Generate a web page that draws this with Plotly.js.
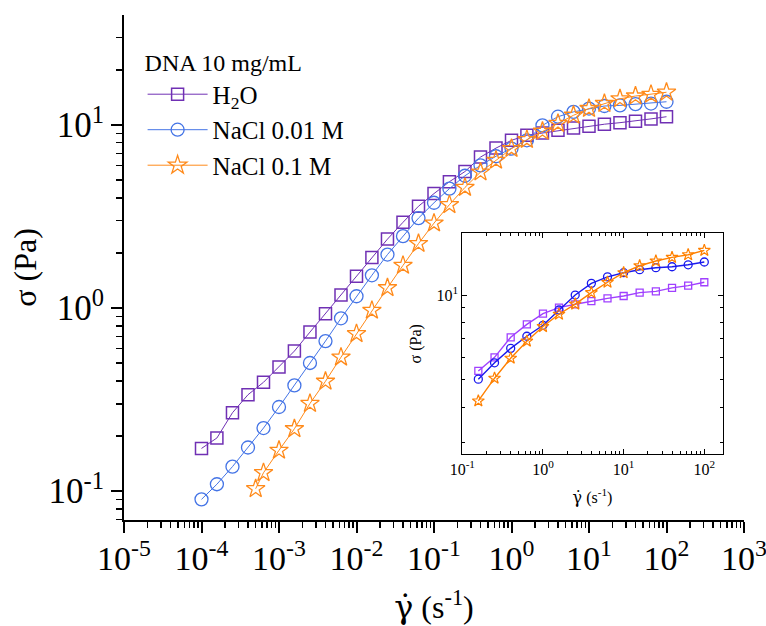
<!DOCTYPE html>
<html>
<head>
<meta charset="utf-8">
<script src="https://cdn.plot.ly/plotly-3.0.1.min.js"></script>
<style>html,body{margin:0;padding:0;background:#fff}#chart{width:766px;height:626px}</style>
</head>
<body>
<div id="chart"></div>
<script>
// ---- data ----
var mainX = [0.0001,0.000158,0.000251,0.000398,0.000631,
             0.001,0.00158,0.00251,0.00398,0.00631,
             0.01,0.0158,0.0251,0.0398,0.0631,
             0.1,0.158,0.251,0.398,0.631,
             1,1.58,2.51,3.98,6.31,
             10,15.8,25.1,39.8,63.1,100];
var h2oMain = [0.171,0.195,0.268,0.336,0.393,
               0.476,0.582,0.739,0.932,1.18,
               1.49,1.89,2.38,2.94,3.60,
               4.22,4.90,5.57,6.68,7.48,
               8.25,8.79,9.04,9.35,9.63,
               9.84,10.1,10.3,10.5,10.8,11.1];
var nacl001Main = [0.0901,0.109,0.136,0.173,0.221,
                   0.288,0.378,0.501,0.660,0.879,
                   1.16,1.51,1.96,2.47,3.10,
                   3.76,4.49,5.28,6.02,6.75,
                   7.43,8.25,9.96,11.1,11.8,
                   12.3,12.7,12.8,13.0,13.1,13.4];
var nacl01X = [0.0005,0.000631,
               0.001,0.00158,0.00251,0.00398,0.00631,
               0.01,0.0158,0.0251,0.0398,0.0631,
               0.1,0.158,0.251,0.398,0.631,
               1,1.58,2.51,3.98,6.31,
               10,15.8,25.1,39.8,63.1,100];
var nacl01Main = [0.103,0.126,
                  0.167,0.219,0.301,0.398,0.539,
                  0.724,0.971,1.29,1.71,2.25,
                  2.91,3.67,4.56,5.53,6.41,
                  7.43,8.32,9.24,10.2,11.3,
                  12.3,13.1,13.9,14.4,14.7,15.1];

var insetX = [0.158,0.251,0.398,0.631,1,1.58,2.51,3.98,6.31,10,15.8,25.1,39.8,63.1,100];
var h2oInset = [5.38,6.01,7.08,7.87,8.59,9.02,9.27,9.52,9.73,9.92,10.2,10.3,10.6,10.8,11.1];
var nacl001Inset = [5.03,5.75,6.47,7.14,7.81,8.85,10.0,11.0,11.6,12.0,12.3,12.5,12.6,12.8,13.1];
var nacl01Inset = [4.21,5.07,5.97,6.86,7.73,8.55,9.29,10.2,11.1,12.0,12.7,13.2,13.6,13.9,14.4];

var seriesNames = ['H<sub>2</sub>O','NaCl 0.01 M','NaCl 0.1 M'];
var legendTitle = 'DNA 10 mg/mL';

var mainXTickVals = [1e-5,1e-4,1e-3,1e-2,1e-1,1,10,100,1000];
var mainXTickText = ['10<sup>-5</sup>','10<sup>-4</sup>','10<sup>-3</sup>','10<sup>-2</sup>','10<sup>-1</sup>','10<sup>0</sup>','10<sup>1</sup>','10<sup>2</sup>','10<sup>3</sup>'];
var mainYTickVals = [0.1,1,10];
var mainYTickText = ['10<sup>-1</sup>','10<sup>0</sup>','10<sup>1</sup>'];
var insetXTickVals = [0.1,1,10,100];
var insetXTickText = ['10<sup>-1</sup>','10<sup>0</sup>','10<sup>1</sup>','10<sup>2</sup>'];
var insetYTickVals = [10];
var insetYTickText = ['10<sup>1</sup>'];
var xTitle = '<span style="font-family:DejaVu Serif">γ̇</span> (s<sup>-1</sup>)';
var yTitle = 'σ (Pa)';

// ---- styling ----
var FONT = "'Liberation Serif', 'Times New Roman', serif";
var mainColors = ['#7030b4','#4474e6','#ff8a1a'];
var insetColors = ['#a040ff','#1a1aee','#ff8000'];

var traces = [
  {x: mainX, y: h2oMain, name: seriesNames[0], mode: 'lines+markers', xaxis:'x', yaxis:'y',
   line:{color:mainColors[0], width:1},
   marker:{symbol:'square-open', size:12, color:mainColors[0], line:{width:1.5}}},
  {x: mainX, y: nacl001Main, name: seriesNames[1], mode: 'lines+markers', xaxis:'x', yaxis:'y',
   line:{color:mainColors[1], width:1},
   marker:{symbol:'circle-open', size:13, color:mainColors[1], line:{width:1.3}}},
  {x: nacl01X, y: nacl01Main, name: seriesNames[2], mode: 'lines+markers', xaxis:'x', yaxis:'y',
   line:{color:mainColors[2], width:1},
   marker:{symbol:'star-open', size:14, color:mainColors[2], line:{width:1.3}}},
  {x: insetX, y: h2oInset, mode:'lines+markers', xaxis:'x2', yaxis:'y2', showlegend:false,
   line:{color:insetColors[0], width:1.4},
   marker:{symbol:'square-open', size:7, color:insetColors[0], line:{width:1.3}}},
  {x: insetX, y: nacl001Inset, mode:'lines+markers', xaxis:'x2', yaxis:'y2', showlegend:false,
   line:{color:insetColors[1], width:1.4},
   marker:{symbol:'circle-open', size:8, color:insetColors[1], line:{width:1.3}}},
  {x: insetX, y: nacl01Inset, mode:'lines+markers', xaxis:'x2', yaxis:'y2', showlegend:false,
   line:{color:insetColors[2], width:1.4},
   marker:{symbol:'star-open', size:9, color:insetColors[2], line:{width:1.2}}}
];

var W = 766, H = 626;
var mL = 124, mR = 22, mT = 15, mB = 106;
var inset = {l:462.3, r:722.7, t:233.3, b:454.3};
var pw = W - mL - mR, ph = H - mT - mB;
var insetXDom = [(inset.l - mL)/pw, (inset.r - mL)/pw];
var insetYDom = [(H - mB - inset.b)/ph, (H - mB - inset.t)/ph];

var mainXRange = [-5, 3];
var mainYRange = [-1.158, 1.601];

var layout = {
  width: W, height: H,
  margin: {l:mL, r:mR, t:mT, b:mB},
  paper_bgcolor:'#fff', plot_bgcolor:'#fff',
  font: {family: FONT, color:'#000', size:24},
  showlegend: true,
  legend: {x:0.03, y:0.95, xanchor:'left', yanchor:'top', bgcolor:'rgba(0,0,0,0)',
           font:{family:FONT, size:25, color:'#000'},
           title:{text: legendTitle, font:{family:FONT, size:24, color:'#000'}},
           itemwidth: 60, tracegroupgap: 4},
  xaxis: {type:'log', range: mainXRange, domain:[0,1], anchor:'y',
          showline:true, linecolor:'#000', linewidth:2, mirror:false,
          ticks:'outside', ticklen:11, tickwidth:2, tickcolor:'#000',
          tickvals: mainXTickVals, ticktext: mainXTickText,
          tickfont:{family:FONT, size:34}, ticklabelstandoff: -4, ticklabeloverflow:'allow',
          minor:{ticks:'outside', ticklen:6, tickwidth:1.5, tickcolor:'#000', dtick:'D1', showgrid:false},
          showgrid:false, zeroline:false,
          title:{text: xTitle, font:{family:FONT, size:32}, standoff: 20}},
  yaxis: {type:'log', range: mainYRange, domain:[0,1], anchor:'x',
          showline:true, linecolor:'#000', linewidth:2, mirror:false,
          ticks:'outside', ticklen:11, tickwidth:2, tickcolor:'#000',
          tickvals: mainYTickVals, ticktext: mainYTickText,
          tickfont:{family:FONT, size:35}, ticklabelstandoff: 0, ticklabeloverflow:'allow',
          minor:{ticks:'outside', ticklen:6, tickwidth:1.5, tickcolor:'#000', dtick:'D1', showgrid:false},
          showgrid:false, zeroline:false,
          title:{text: yTitle, font:{family:FONT, size:32}, standoff: 2}},
  xaxis3: {type:'log', range: mainXRange, overlaying:'x', side:'top', anchor:'y',
          showline:true, linecolor:'#000', linewidth:2,
          ticks:'inside', ticklen:10, tickwidth:2, tickcolor:'#000',
          tickvals: mainXTickVals, showticklabels:false,
          minor:{ticks:'inside', ticklen:5, tickwidth:1.5, tickcolor:'#000', dtick:'D1', showgrid:false},
          showgrid:false, zeroline:false},
  yaxis3: {type:'log', range: mainYRange, overlaying:'y', side:'right', anchor:'x',
          showline:true, linecolor:'#000', linewidth:2,
          ticks:'inside', ticklen:10, tickwidth:2, tickcolor:'#000',
          tickvals: mainYTickVals, showticklabels:false,
          minor:{ticks:'inside', ticklen:5, tickwidth:1.5, tickcolor:'#000', dtick:'D1', showgrid:false},
          showgrid:false, zeroline:false},
  xaxis2: {type:'log', range:[-1, 2.228], domain: insetXDom, anchor:'y2',
          showline:true, linecolor:'#000', linewidth:1, mirror:'allticks',
          ticks:'inside', ticklen:5, tickwidth:1, tickcolor:'#000',
          tickvals: insetXTickVals, ticktext: insetXTickText,
          tickfont:{family:FONT, size:16},
          minor:{ticks:'inside', ticklen:3, tickwidth:1, tickcolor:'#000', dtick:'D1', showgrid:false},
          showgrid:false, zeroline:false,
          title:{text: xTitle, font:{family:FONT, size:16}, standoff: 15}},
  yaxis2: {type:'log', range:[0.435, 1.219], domain: insetYDom, anchor:'x2',
          showline:true, linecolor:'#000', linewidth:1, mirror:'allticks',
          ticks:'inside', ticklen:5, tickwidth:1, tickcolor:'#000',
          tickvals: insetYTickVals, ticktext: insetYTickText,
          tickfont:{family:FONT, size:16},
          minor:{ticks:'inside', ticklen:3, tickwidth:1, tickcolor:'#000', dtick:'D1', showgrid:false},
          showgrid:false, zeroline:false,
          title:{text: yTitle, font:{family:FONT, size:16}, standoff: 10}}
};

Plotly.newPlot('chart', traces, layout, {staticPlot:true, displayModeBar:false});
</script>
</body>
</html>
